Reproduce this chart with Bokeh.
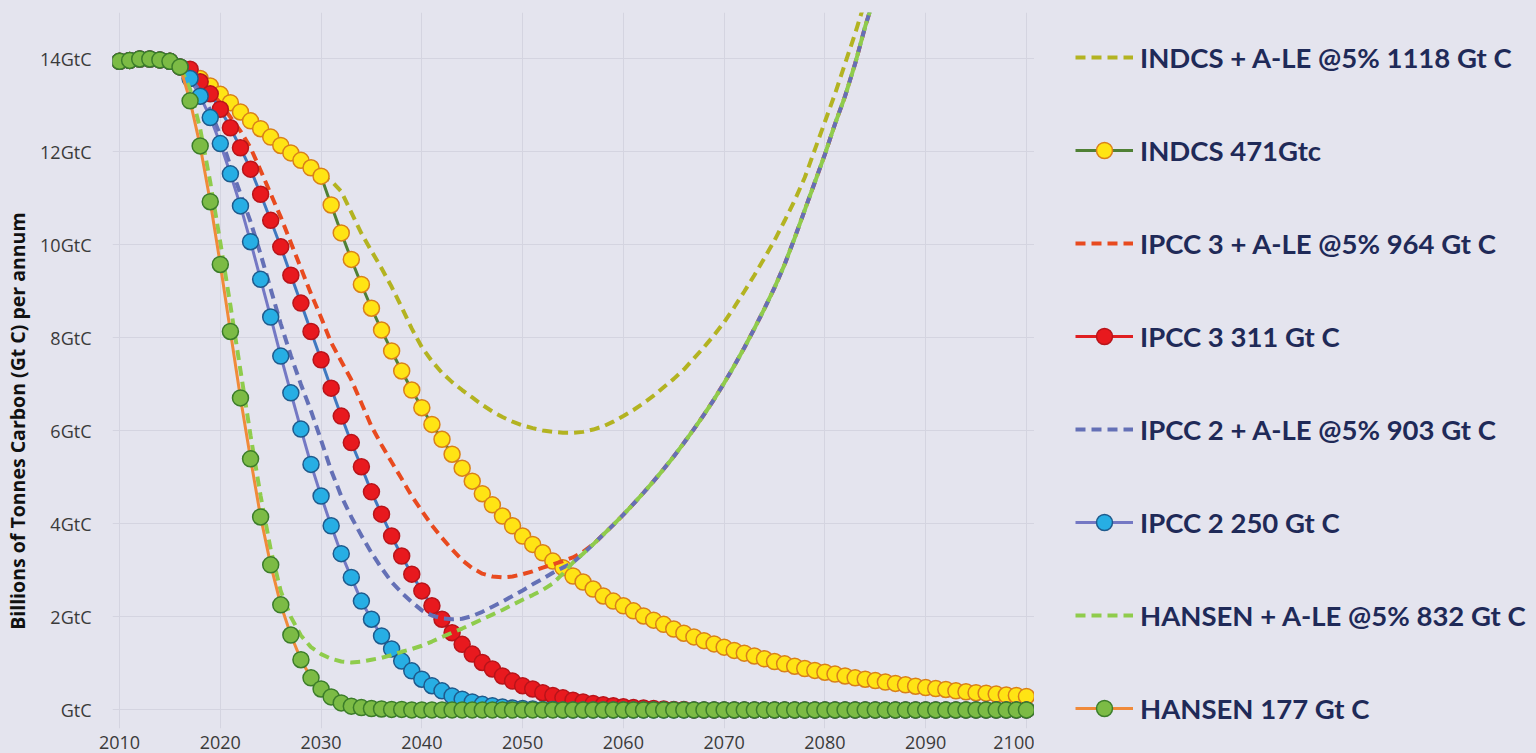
from bokeh.plotting import figure
from bokeh.layouts import row
from bokeh.models import Range1d, FixedTicker, Legend, LegendItem
from bokeh.embed import file_html
from bokeh.resources import INLINE

# ---------------- data ----------------
years = list(range(2010, 2101))
years_ale = list(range(2010, 2086))

x_ticks = [2010, 2020, 2030, 2040, 2050, 2060, 2070, 2080, 2090, 2100]
y_ticks = [0, 2, 4, 6, 8, 10, 12, 14]
y_tick_labels = ["GtC", "2GtC", "4GtC", "6GtC", "8GtC", "10GtC", "12GtC", "14GtC"]

series_labels = [
    "INDCS + A-LE @5% 1118 Gt C",
    "INDCS 471Gtc",
    "IPCC 3 + A-LE @5% 964 Gt C",
    "IPCC 3 311 Gt C",
    "IPCC 2 + A-LE @5% 903 Gt C",
    "IPCC 2 250 Gt C",
    "HANSEN + A-LE @5% 832 Gt C",
    "HANSEN 177 Gt C",
]

indcs_ale = [
    13.95, 13.97, 14.00, 14.00, 13.98, 13.95, 13.83, 13.72, 13.58, 13.42,
    13.24, 13.06, 12.86, 12.67, 12.50, 12.32, 12.14, 11.98, 11.82, 11.66,
    11.48, 11.38, 11.15, 10.70, 10.25, 9.87, 9.50, 9.10, 8.66, 8.20,
    7.80, 7.50, 7.25, 7.05, 6.88, 6.72, 6.56, 6.42, 6.30, 6.20,
    6.12, 6.06, 6.01, 5.98, 5.96, 5.96, 5.98, 6.03, 6.10, 6.20,
    6.32, 6.45, 6.60, 6.76, 6.94, 7.12, 7.32, 7.56, 7.80, 8.06,
    8.34, 8.66, 9.00, 9.35, 9.72, 10.10, 10.52, 10.96, 11.45, 12.05,
    12.65, 13.25, 13.90, 14.55, 15.25, 15.95,
]

indcs = [
    13.95, 13.97, 14.00, 14.00, 13.98, 13.95, 13.83, 13.72, 13.58, 13.42,
    13.24, 13.06, 12.86, 12.67, 12.50, 12.32, 12.14, 11.98, 11.82, 11.66,
    11.48, 10.86, 10.26, 9.69, 9.15, 8.64, 8.17, 7.72, 7.29, 6.88,
    6.50, 6.14, 5.82, 5.50, 5.20, 4.92, 4.65, 4.41, 4.17, 3.96,
    3.74, 3.56, 3.38, 3.20, 3.06, 2.88, 2.75, 2.60, 2.45, 2.34,
    2.24, 2.13, 2.02, 1.93, 1.84, 1.74, 1.65, 1.57, 1.49, 1.42,
    1.35, 1.28, 1.22, 1.16, 1.10, 1.04, 0.99, 0.94, 0.89, 0.85,
    0.81, 0.77, 0.73, 0.69, 0.66, 0.63, 0.60, 0.57, 0.54, 0.51,
    0.48, 0.46, 0.44, 0.41, 0.39, 0.37, 0.36, 0.34, 0.32, 0.31,
    0.29,
]

ipcc3_ale = [
    13.95, 13.97, 14.00, 14.00, 13.98, 13.95, 13.83, 13.78, 13.55, 13.30,
    13.05, 12.75, 12.45, 12.09, 11.60, 11.10, 10.60, 10.05, 9.50, 8.95,
    8.44, 7.90, 7.50, 7.10, 6.60, 6.10, 5.70, 5.33, 4.97, 4.60,
    4.28, 3.97, 3.70, 3.45, 3.22, 3.05, 2.93, 2.87, 2.85, 2.87,
    2.92, 2.98, 3.06, 3.13, 3.20, 3.28, 3.40, 3.56, 3.77, 3.98,
    4.20, 4.43, 4.67, 4.92, 5.18, 5.45, 5.74, 6.04, 6.35, 6.68,
    7.03, 7.40, 7.79, 8.20, 8.63, 9.08, 9.58, 10.15, 10.75, 11.35,
    11.95, 12.60, 13.20, 13.90, 14.70, 15.40,
]

ipcc3 = [
    13.95, 13.97, 14.00, 14.00, 13.98, 13.95, 13.83, 13.78, 13.51, 13.25,
    12.92, 12.52, 12.09, 11.63, 11.09, 10.53, 9.96, 9.35, 8.75, 8.14,
    7.53, 6.92, 6.32, 5.75, 5.23, 4.69, 4.21, 3.74, 3.31, 2.92,
    2.56, 2.24, 1.95, 1.66, 1.41, 1.20, 1.02, 0.88, 0.73, 0.62,
    0.52, 0.45, 0.37, 0.31, 0.26, 0.21, 0.17, 0.14, 0.11, 0.09,
    0.07, 0.05, 0.04, 0.03, 0.02, 0.01, 0.01, 0.00, 0.00, 0.00,
    0.00, 0.00, 0.00, 0.00, 0.00, 0.00, 0.00, 0.00, 0.00, 0.00,
    0.00, 0.00, 0.00, 0.00, 0.00, 0.00, 0.00, 0.00, 0.00, 0.00,
    0.00, 0.00, 0.00, 0.00, 0.00, 0.00, 0.00, 0.00, 0.00, 0.00,
    0.00,
]

ipcc2_ale = [
    13.95, 13.97, 14.00, 14.00, 13.98, 13.95, 13.83, 13.60, 13.30, 12.90,
    12.35, 11.70, 11.10, 10.50, 9.80, 9.05, 8.30, 7.62, 7.00, 6.43,
    5.80, 5.15, 4.60, 4.15, 3.75, 3.38, 3.05, 2.75, 2.52, 2.32,
    2.14, 2.03, 1.97, 1.95, 1.96, 2.02, 2.11, 2.22, 2.33, 2.45,
    2.57, 2.70, 2.82, 2.95, 3.06, 3.17, 3.36, 3.56, 3.77, 3.98,
    4.20, 4.43, 4.67, 4.92, 5.18, 5.45, 5.74, 6.04, 6.35, 6.68,
    7.03, 7.40, 7.79, 8.20, 8.63, 9.08, 9.58, 10.15, 10.75, 11.35,
    11.95, 12.60, 13.20, 13.90, 14.70, 15.40,
]

ipcc2 = [
    13.95, 13.97, 14.00, 14.00, 13.98, 13.95, 13.83, 13.58, 13.20, 12.74,
    12.18, 11.53, 10.84, 10.07, 9.26, 8.45, 7.61, 6.82, 6.04, 5.28,
    4.60, 3.96, 3.36, 2.85, 2.34, 1.95, 1.59, 1.31, 1.05, 0.84,
    0.66, 0.52, 0.41, 0.30, 0.23, 0.17, 0.12, 0.09, 0.06, 0.04,
    0.03, 0.02, 0.01, 0.01, 0.00, 0.00, 0.00, 0.00, 0.00, 0.00,
    0.00, 0.00, 0.00, 0.00, 0.00, 0.00, 0.00, 0.00, 0.00, 0.00,
    0.00, 0.00, 0.00, 0.00, 0.00, 0.00, 0.00, 0.00, 0.00, 0.00,
    0.00, 0.00, 0.00, 0.00, 0.00, 0.00, 0.00, 0.00, 0.00, 0.00,
    0.00, 0.00, 0.00, 0.00, 0.00, 0.00, 0.00, 0.00, 0.00, 0.00,
    0.00,
]

hansen_ale = [
    13.95, 13.97, 14.00, 14.00, 13.98, 13.95, 13.83, 13.35, 12.50, 11.35,
    10.05, 8.70, 7.30, 5.90, 4.60, 3.45, 2.55, 2.00, 1.60, 1.35,
    1.20, 1.10, 1.04, 1.02, 1.04, 1.08, 1.12, 1.18, 1.25, 1.31,
    1.38, 1.47, 1.57, 1.66, 1.75, 1.85, 1.95, 2.05, 2.15, 2.26,
    2.37, 2.47, 2.58, 2.72, 2.93, 3.17, 3.36, 3.56, 3.77, 3.98,
    4.20, 4.43, 4.67, 4.92, 5.18, 5.45, 5.74, 6.04, 6.35, 6.68,
    7.03, 7.40, 7.79, 8.20, 8.63, 9.08, 9.58, 10.15, 10.75, 11.35,
    11.95, 12.60, 13.20, 13.90, 14.70, 15.40,
]

hansen = [
    13.95, 13.97, 14.00, 14.00, 13.98, 13.95, 13.83, 13.10, 12.13, 10.93,
    9.58, 8.14, 6.71, 5.40, 4.15, 3.12, 2.26, 1.61, 1.08, 0.69,
    0.45, 0.28, 0.15, 0.08, 0.05, 0.03, 0.02, 0.01, 0.01, 0.00,
    0.00, 0.00, 0.00, 0.00, 0.00, 0.00, 0.00, 0.00, 0.00, 0.00,
    0.00, 0.00, 0.00, 0.00, 0.00, 0.00, 0.00, 0.00, 0.00, 0.00,
    0.00, 0.00, 0.00, 0.00, 0.00, 0.00, 0.00, 0.00, 0.00, 0.00,
    0.00, 0.00, 0.00, 0.00, 0.00, 0.00, 0.00, 0.00, 0.00, 0.00,
    0.00, 0.00, 0.00, 0.00, 0.00, 0.00, 0.00, 0.00, 0.00, 0.00,
    0.00, 0.00, 0.00, 0.00, 0.00, 0.00, 0.00, 0.00, 0.00, 0.00,
    0.00,
]

y_axis_title = "Billions of Tonnes Carbon (Gt C) per annum"

# ---------------- styles ----------------
BG = "#e4e4ee"
GRID = "#d4d4e0"
TEXT = "#3a3a3a"
LEGEND_TEXT = "#1f2a58"
DASH = "10 6"
MS = 16

dash_styles = {
    "indcs_ale": dict(line_color="#b3b321", line_width=4, line_dash=DASH),
    "ipcc3_ale": dict(line_color="#e84a1f", line_width=4, line_dash=DASH),
    "ipcc2_ale": dict(line_color="#6470b6", line_width=4, line_dash=DASH),
    "hansen_ale": dict(line_color="#8fcc4c", line_width=4, line_dash=DASH),
}
line_styles = {
    "indcs": dict(line_color="#4f8034", line_width=3),
    "ipcc3": dict(line_color="#3f78c0", line_width=3),
    "ipcc2": dict(line_color="#7478c4", line_width=3),
    "hansen": dict(line_color="#f08a3a", line_width=3),
}
key_line_styles = dict(line_styles)
key_line_styles["ipcc3"] = dict(line_color="#e01f22", line_width=3)
marker_styles = {
    "indcs": dict(fill_color="#ffe414", line_color="#d9801a", line_width=1.5),
    "ipcc3": dict(fill_color="#e8191e", line_color="#b8141a", line_width=1.5),
    "ipcc2": dict(fill_color="#27aee4", line_color="#1f5a8c", line_width=1.5),
    "hansen": dict(fill_color="#7cbb45", line_color="#3c7d2a", line_width=1.5),
}

PLOT_W = 1034
LEG_W = 1536 - PLOT_W
H = 753

p = figure(
    width=PLOT_W, height=H,
    output_backend="svg", toolbar_location=None,
    x_range=Range1d(2009.3, 2100.8), y_range=Range1d(-0.4, 15.0),
    min_border_left=112, min_border_right=0, min_border_top=12, min_border_bottom=25,
    background_fill_color=BG, border_fill_color=BG,
)
p.outline_line_color = None

p.xaxis.ticker = FixedTicker(ticks=x_ticks)
p.yaxis.ticker = FixedTicker(ticks=y_ticks)
p.yaxis.major_label_overrides = {t: l for t, l in zip(y_ticks, y_tick_labels)}

for ax in (p.xaxis[0], p.yaxis[0]):
    ax.axis_line_color = None
    ax.major_tick_line_color = None
    ax.minor_tick_line_color = None
    ax.major_tick_out = 0
    ax.major_tick_in = 0
    ax.minor_tick_out = 0
    ax.major_label_text_font = "Open Sans"
    ax.major_label_text_font_size = "18px"
    ax.major_label_text_color = TEXT

p.xaxis.major_label_standoff = 7
p.yaxis.major_label_standoff = 21
# trailing no-break spaces move the (rotated) title a little lower, as in the reference
p.yaxis.axis_label = y_axis_title + "\u00a0" * 20
p.yaxis.axis_label_text_font = "Open Sans"
p.yaxis.axis_label_text_font_style = "bold"
p.yaxis.axis_label_text_font_size = "19.5px"
p.yaxis.axis_label_text_color = "#111111"
p.yaxis.axis_label_standoff = 6

p.xgrid.grid_line_color = GRID
p.ygrid.grid_line_color = GRID
p.xgrid.grid_line_width = 1
p.ygrid.grid_line_width = 1

# series drawn in legend order (later ones on top)
p.line(years_ale, indcs_ale, **dash_styles["indcs_ale"])
p.line(years, indcs, **line_styles["indcs"])
p.scatter(years, indcs, size=MS, **marker_styles["indcs"])
p.line(years_ale, ipcc3_ale, **dash_styles["ipcc3_ale"])
p.line(years, ipcc3, **line_styles["ipcc3"])
p.scatter(years, ipcc3, size=MS, **marker_styles["ipcc3"])
p.line(years_ale, ipcc2_ale, **dash_styles["ipcc2_ale"])
p.line(years, ipcc2, **line_styles["ipcc2"])
p.scatter(years, ipcc2, size=MS, **marker_styles["ipcc2"])
p.line(years_ale, hansen_ale, **dash_styles["hansen_ale"])
p.line(years, hansen, **line_styles["hansen"])
p.scatter(years, hansen, size=MS, **marker_styles["hansen"])

# ---------------- key (separate panel to the right) ----------------
k = figure(
    width=LEG_W, height=H,
    output_backend="svg", toolbar_location=None,
    x_range=Range1d(0, 1), y_range=Range1d(0, 1),
    x_axis_location=None, y_axis_location=None,
    min_border_left=0, min_border_right=0, min_border_top=0, min_border_bottom=0,
    background_fill_color=BG, border_fill_color=BG,
)
k.outline_line_color = None
k.grid.visible = False

nan2 = [float("nan"), float("nan")]
xs2 = [0.0, 1.0]
key_order = [
    ("indcs_ale", None), ("indcs", "m"), ("ipcc3_ale", None), ("ipcc3", "m"),
    ("ipcc2_ale", None), ("ipcc2", "m"), ("hansen_ale", None), ("hansen", "m"),
]
items = []
for lab, (key, kind) in zip(series_labels, key_order):
    if kind is None:
        rs = [k.line(xs2, nan2, **dash_styles[key])]
    else:
        rs = [k.line(xs2, nan2, **key_line_styles[key]),
              k.scatter(xs2, nan2, size=MS, **marker_styles[key])]
    items.append(LegendItem(label=lab, renderers=rs))

legend = Legend(
    items=items,
    location=(41, 0),
    orientation="vertical",
    glyph_width=58, glyph_height=40, label_height=40,
    spacing=53, padding=0, margin=0, label_standoff=7,
    label_text_font="Lato", label_text_font_style="bold",
    label_text_font_size="27.5px", label_text_color=LEGEND_TEXT,
    background_fill_alpha=0, border_line_alpha=0,
)
k.add_layout(legend)

layout = row(p, k, spacing=0, styles={"background-color": BG})
open("out.html", "w").write(file_html(layout, INLINE))
